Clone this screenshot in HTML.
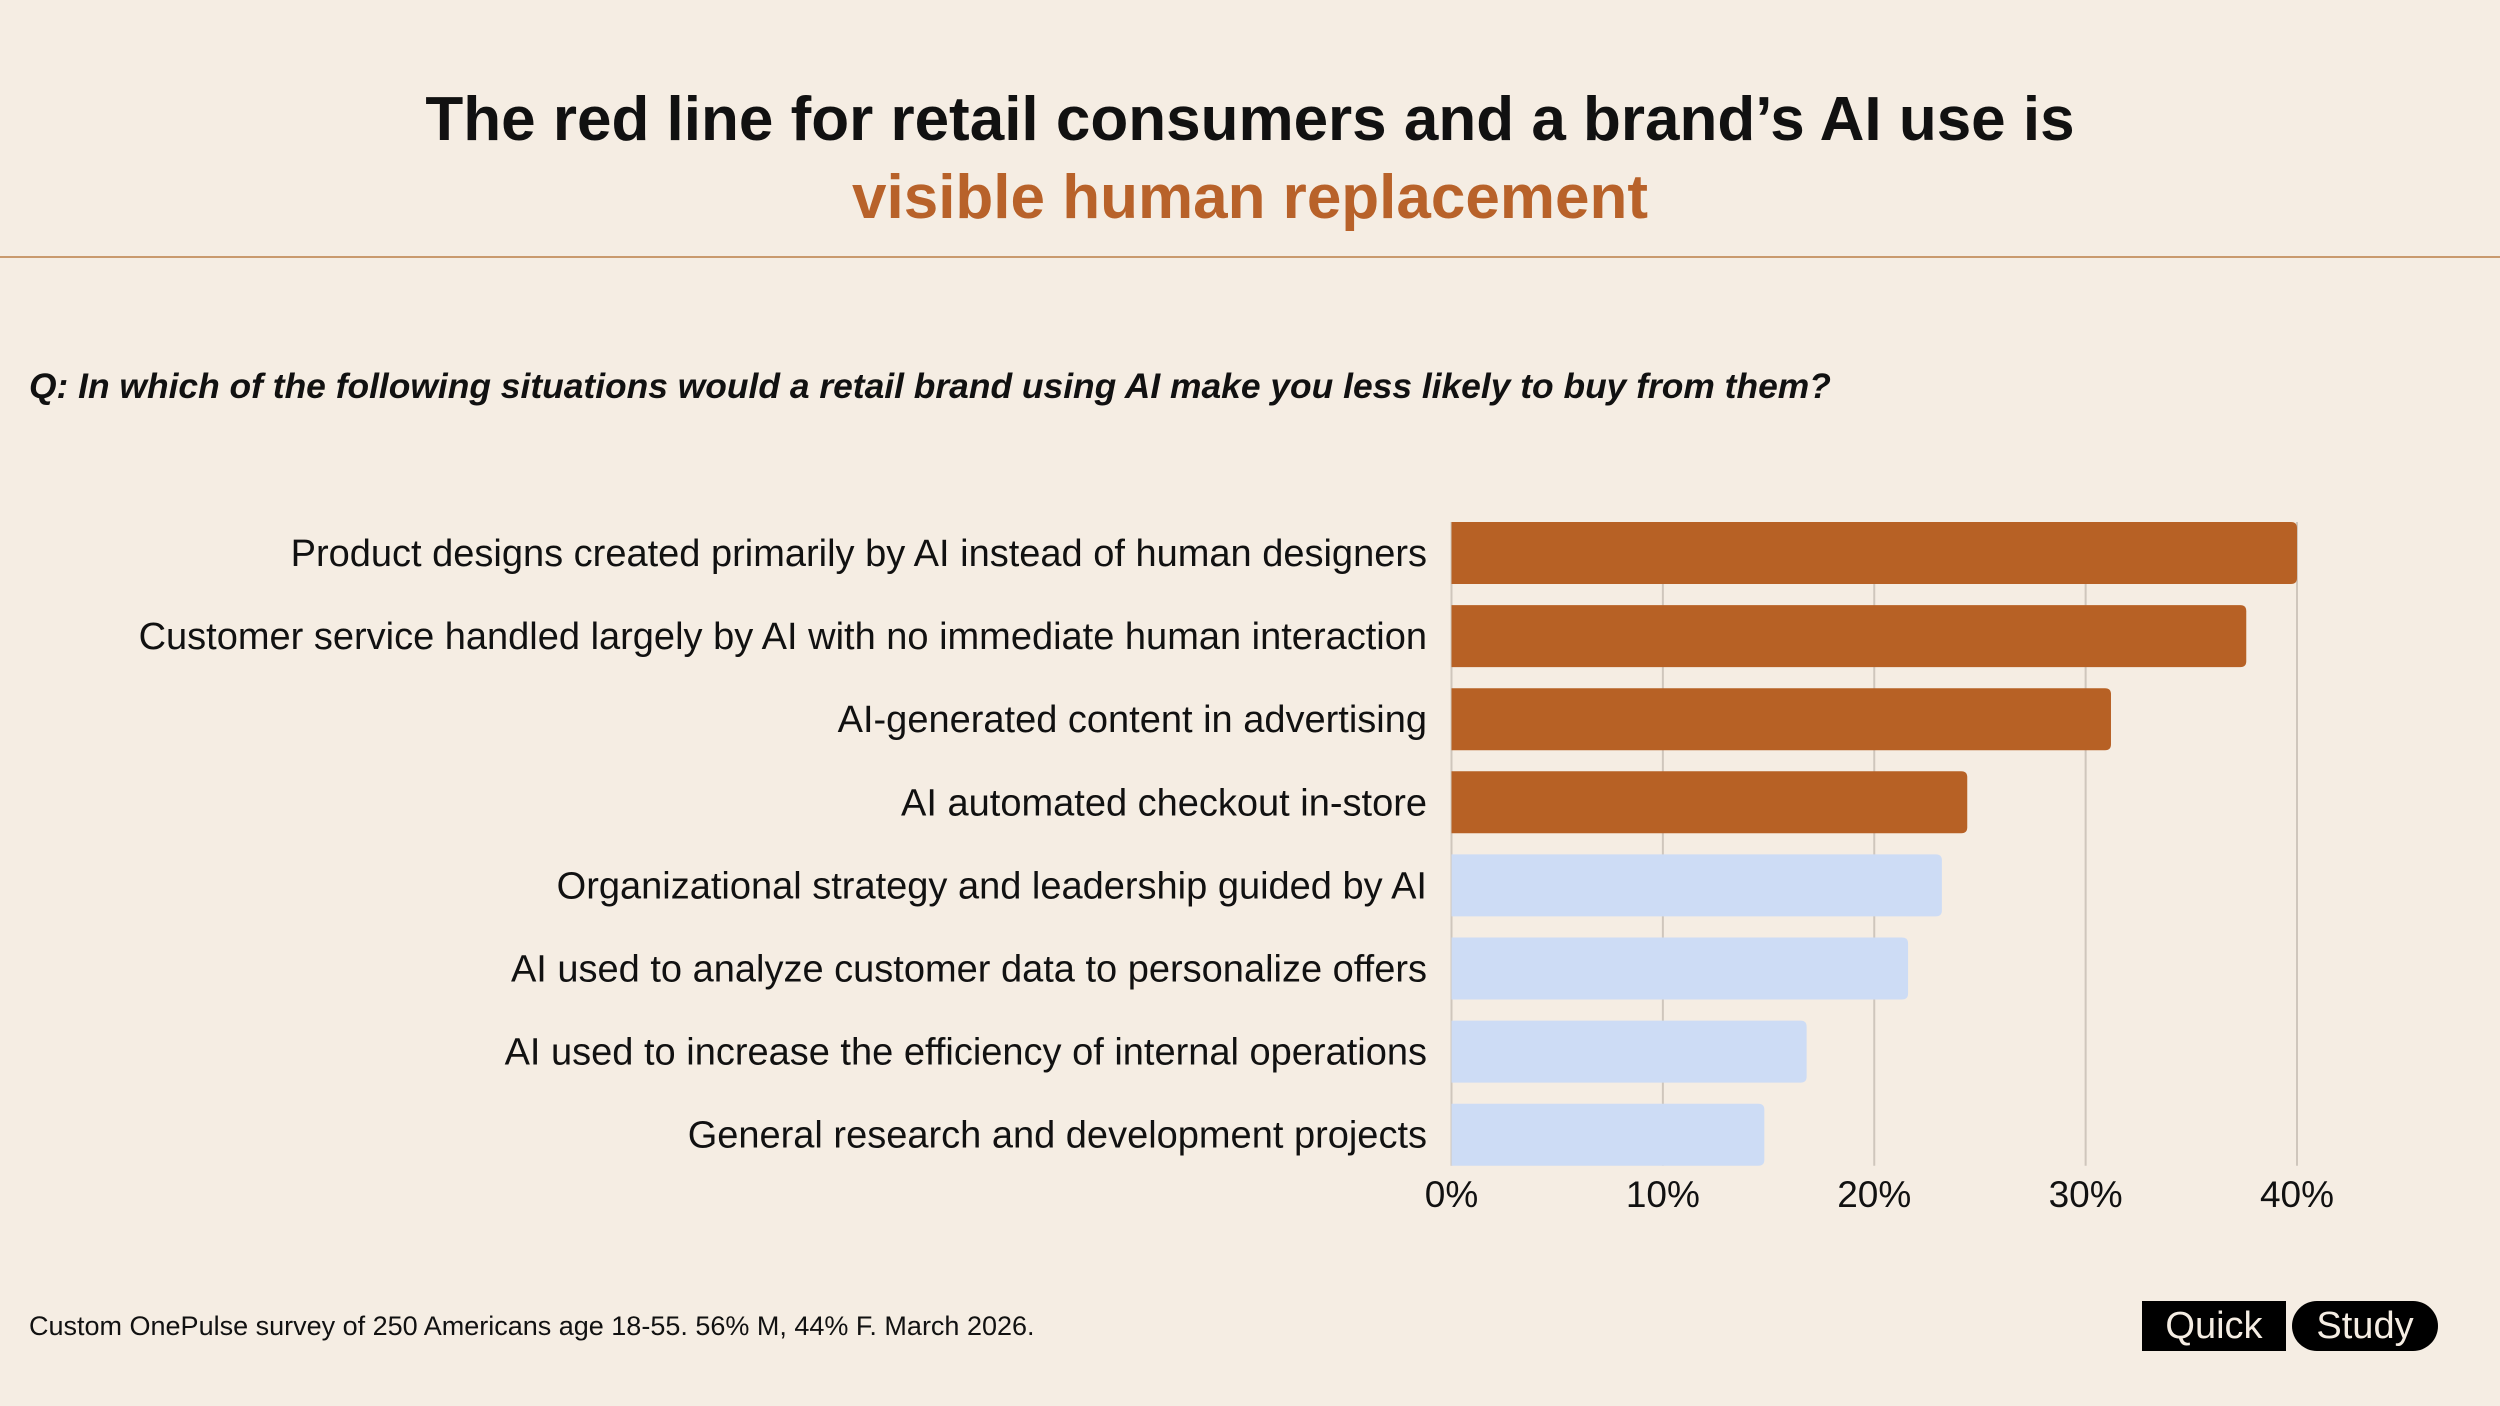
<!DOCTYPE html>
<html><head><meta charset="utf-8"><style>
html,body{margin:0;padding:0}
body{width:2500px;height:1406px;background:#f5ede3;position:relative;overflow:hidden;font-family:"Liberation Sans",sans-serif;color:#111}
.t{position:absolute;left:0;width:2500px;text-align:center;font-weight:bold;font-size:62px;letter-spacing:0px}
</style></head><body>
<div class="t" style="top:84px;color:#111">The red line for retail consumers and a brand’s AI use is</div>
<div class="t" style="top:162px;color:#b8622a">visible human replacement</div>
<div style="position:absolute;left:0;top:256px;width:2500px;height:2px;background:#c99a6e"></div>
<div style="position:absolute;left:29px;top:366px;font-size:35.4px;font-weight:bold;font-style:italic">Q: In which of the following situations would a retail brand using AI make you less likely to buy from them?</div>
<svg id="chart" width="2500" height="1406" style="position:absolute;left:0;top:0"></svg>
<div style="position:absolute;left:29px;top:1311px;font-size:27px">Custom OnePulse survey of 250 Americans age 18-55. 56% M, 44% F. March 2026.</div>
<div style="position:absolute;left:2142px;top:1301px;width:144px;height:50px;background:#000;color:#f5ede3;font-size:38px;line-height:50px;text-align:center">Quick</div>
<div style="position:absolute;left:2292px;top:1301px;width:146px;height:50px;background:#000;color:#f5ede3;font-size:38px;line-height:50px;text-align:center;border-radius:25px">Study</div>
<script>
const categories=["Product designs created primarily by AI instead of human designers","Customer service handled largely by AI with no immediate human interaction","AI-generated content in advertising","AI automated checkout in-store","Organizational strategy and leadership guided by AI","AI used to analyze customer data to personalize offers","AI used to increase the efficiency of internal operations","General research and development projects"];
const values=[40,37.6,31.2,24.4,23.2,21.6,16.8,14.8];
const highlighted=[true,true,true,true,false,false,false,false];
const ticks=[0,10,20,30,40];
const tickLabels=["0%","10%","20%","30%","40%"];
const NS="http://www.w3.org/2000/svg";
const svg=document.getElementById('chart');
const x0=1451.5,x1=2297,top0=522,pitch=83.1,bh=62;
const xs=v=>x0+(v/40)*(x1-x0);
const yb=i=>top0+i*pitch;
function mk(t,a){const e=document.createElementNS(NS,t);for(const k in a)e.setAttribute(k,a[k]);svg.appendChild(e);return e;}
ticks.forEach((t,i)=>{
  const g=mk('line',{x1:xs(t),x2:xs(t),y1:top0,y2:yb(categories.length-1)+bh,stroke:'#cfc6bc','stroke-width':2});
  
  
  const l=mk('text',{x:xs(t),y:1207,'text-anchor':'middle','font-size':37,fill:'#111','font-family':'Liberation Sans, sans-serif'});
  l.textContent=tickLabels[i];
  
  
});
categories.forEach((c,i)=>{
  const w=xs(values[i])-x0;
  const r=mk('path',{d:`M${x0},${yb(i)} h${w-6} q6,0 6,6 v${bh-12} q0,6 -6,6 h${-(w-6)} z`,fill:highlighted[i]?'#b76125':'#cddcf5'});
  
  
  const l=mk('text',{x:1427,y:yb(i)+bh/2+13,'text-anchor':'end','font-size':38,fill:'#111','font-family':'Liberation Sans, sans-serif'});
  l.textContent=c;
  
  
});
</script>
</body></html>
